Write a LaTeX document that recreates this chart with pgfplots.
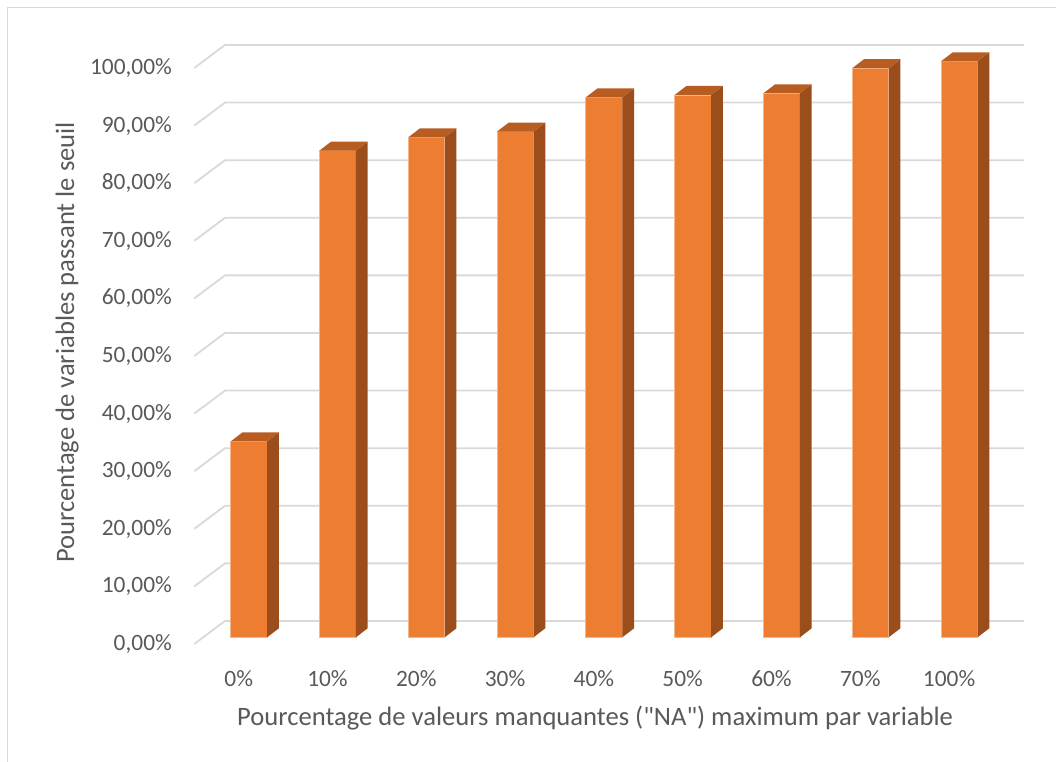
\documentclass[border=0pt]{standalone}
\usepackage{pgfplots}
\pgfplotsset{compat=1.18}
\usepackage{pgfplotstable}
\usepackage{fontspec}
\setmainfont{Carlito}[Ligatures=TeXOff]

\definecolor{barfront}{HTML}{ED7D31}
\definecolor{bartop}{HTML}{B85D22}
\definecolor{barside}{HTML}{9B4D1C}
\definecolor{gridgray}{HTML}{D9D9D9}
\definecolor{txtgray}{HTML}{595959}

% pourcentage de variables passant le seuil
\pgfplotstableread{
idx val
0 34.0
1 84.5
2 86.8
3 87.8
4 93.75
5 94.15
6 94.45
7 98.8
8 100.0
}\seuil

% fake 3D: half bar width and depth of the bars (axis units)
\def\bhw{0.2055}
\def\bdx{0.132}
\def\bdy{1.56}

\begin{document}
\begin{tikzpicture}
\begin{axis}[
  x=44.4pt, y=2.88pt,
  xmin=-0.615, xmax=8.731, ymin=-1.163, ymax=102.83,
  enlargelimits=false, clip=false,
  axis line style={draw=none}, tick style={draw=none},
  xtick={-0.115,0.885,1.885,2.885,3.885,4.885,5.885,6.885,7.885},
  xticklabels={0\%,10\%,20\%,30\%,40\%,50\%,60\%,70\%,100\%},
  ytick={-1.163,8.837,18.837,28.837,38.837,48.837,58.837,68.837,78.837,88.837,98.837},
  yticklabels={{0,00\%},{10,00\%},{20,00\%},{30,00\%},{40,00\%},{50,00\%},
    {60,00\%},{70,00\%},{80,00\%},{90,00\%},{100,00\%}},
  ticklabel style={font=\fontsize{11.7}{14}\selectfont, text=txtgray},
  yticklabel style={anchor=east, inner sep=0pt, xshift=-11pt},
  xticklabel style={anchor=center, inner sep=0pt, yshift=-17.5pt},
  label style={font=\fontsize{13.3}{16}\selectfont, text=txtgray},
  xlabel={Pourcentage de valeurs manquantes ("NA") maximum par variable},
  ylabel={Pourcentage de variables passant le seuil},
  xlabel style={at={(axis description cs:0.5,0)}, anchor=center, xshift=-7.1pt, yshift=-37pt},
  ylabel style={at={(axis description cs:0,0.5)}, anchor=center, yshift=63.6pt, xshift=1pt},
]
% gridlines: side wall + back wall
\pgfplotsforeachungrouped \g in {0,10,...,100} {
  \pgfmathsetmacro\gf{\g-1.163}
  \pgfmathsetmacro\gb{\g+2.83}
  \edef\temp{\noexpand\addplot[gridgray, line width=0.9pt] coordinates {(-0.615,\gf) (-0.269,\gb) (8.731,\gb)};}
  \temp
}

\addplot[ybar, bar width=0.411, fill=barfront, draw=barfront!55!white, line width=0.4pt]
  table[x=idx, y=val] {\seuil};

% side and top faces
\pgfplotsforeachungrouped \i in {0,...,8} {
  \pgfplotstablegetelem{\i}{val}\of\seuil
  \let\bv\pgfplotsretval
  \pgfmathsetmacro\xa{\i+\bhw}
  \pgfmathsetmacro\xb{\i+\bhw+\bdx}
  \pgfmathsetmacro\xc{\i-\bhw}
  \pgfmathsetmacro\xd{\i-\bhw+\bdx}
  \pgfmathsetmacro\vt{\bv+\bdy}
  \edef\temp{%
    \noexpand\addplot[fill=barside, draw=none] coordinates {(\xa,0) (\xb,\bdy) (\xb,\vt) (\xa,\bv)} -- cycle;
    \noexpand\addplot[fill=bartop, draw=none] coordinates {(\xc,\bv) (\xa,\bv) (\xb,\vt) (\xd,\vt)} -- cycle;}
  \temp
}

\draw[gridgray, line width=0.75pt] (axis cs:-2.718,-40) -- (axis cs:-2.718,109.34) -- (axis cs:9.5,109.34);
\coordinate (bbsw) at (axis cs:-2.803,-21.65);
\coordinate (bbne) at (axis cs:9.089,110.64);
\end{axis}
\pgfresetboundingbox
\path[use as bounding box] (bbsw) rectangle (bbne);
\end{tikzpicture}
\end{document}
